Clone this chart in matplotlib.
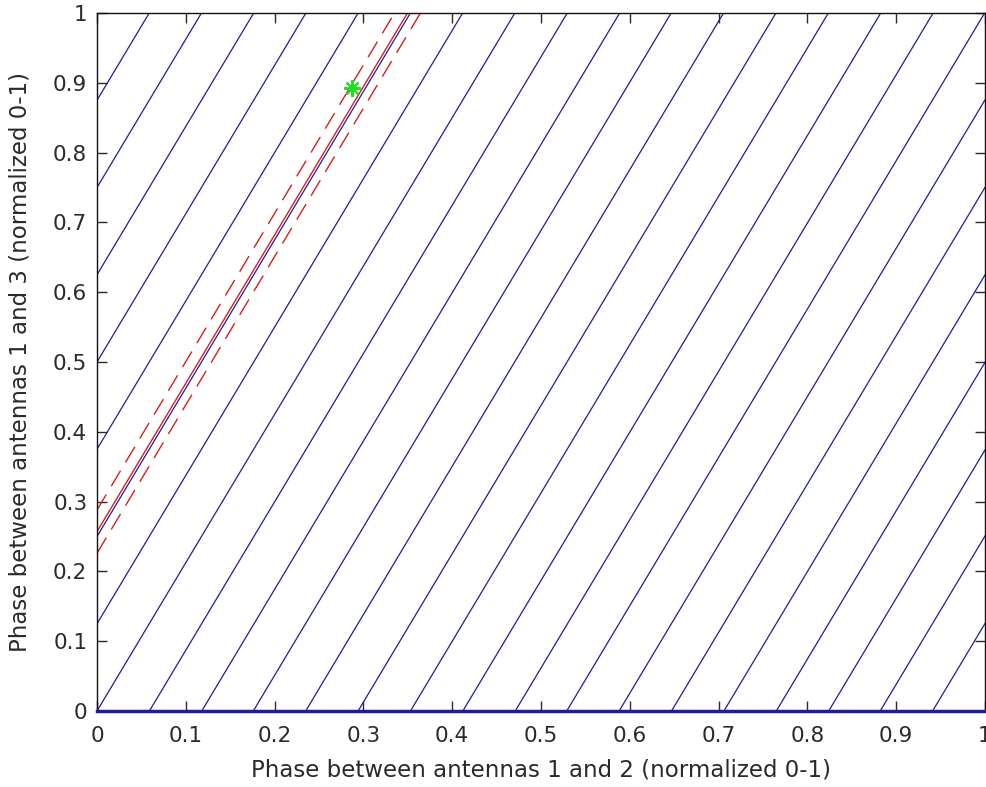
import matplotlib
matplotlib.use("Agg")
import matplotlib.pyplot as plt
import numpy as np

# Family of blue lines (all with the same slope)
slope = 2.125
bottom_x = [0.0, 0.059, 0.118, 0.176, 0.235, 0.294, 0.353, 0.412, 0.471,
            0.529, 0.588, 0.647, 0.706, 0.765, 0.824, 0.882, 0.941, 1.0]
left_y = [0.125, 0.25, 0.375, 0.5, 0.625, 0.75, 0.875, 1.0]

# Red band
red_center_y0 = 0.257
red_band = 0.031

# Green star
star_x = [0.287]
star_y = [0.892]

xticks = [0, 0.1, 0.2, 0.3, 0.4, 0.5, 0.6, 0.7, 0.8, 0.9, 1]
tick_labels = ["0", "0.1", "0.2", "0.3", "0.4", "0.5", "0.6", "0.7", "0.8", "0.9", "1"]

plt.rcParams['font.family'] = ['DejaVu Sans']

fig = plt.figure(figsize=(9.87, 7.87), dpi=100)
ax = fig.add_axes([97/987, 1-711/787, (985-97)/987, (711-13)/787])

blue = '#1e1e96'
xs = np.array([0.0, 1.0])
for x0 in bottom_x:
    ax.plot(xs, slope*(xs - x0), color=blue, lw=0.9)
for y0 in left_y:
    ax.plot(xs, slope*xs + y0, color=blue, lw=0.9)
ax.plot([0, 1], [0, 0], color=blue, lw=2.5, clip_on=False, zorder=3)

red = '#d42020'
ax.plot(xs, slope*xs + red_center_y0, color=red, lw=1.0)
for off in (-red_band, red_band):
    ax.plot(xs, slope*xs + red_center_y0 + off, color=red, lw=1.0, dashes=(13, 7))

ax.plot(star_x, star_y, linestyle='none', marker=(8, 2, 0), color='#22dd22',
        markersize=12, markeredgewidth=1.5, zorder=5)

ax.set_xlim(0, 1)
ax.set_ylim(0, 1)
ax.set_xticks(xticks)
ax.set_yticks(xticks)
ax.set_xticklabels(tick_labels)
ax.set_yticklabels(tick_labels)
ax.tick_params(direction='in', length=7, width=1, top=True, right=True,
               labelsize=15.5, colors='#2a2a2a')
ax.tick_params(axis='x', pad=11)
ax.tick_params(axis='y', pad=7)
for s in ax.spines.values():
    s.set_linewidth(1.0)
    s.set_color('#111111')

ax.set_xlabel("Phase between antennas 1 and 2 (normalized 0-1)", fontsize=16.5,
              color='#2a2a2a')
ax.set_ylabel("Phase between antennas 1 and 3 (normalized 0-1)", fontsize=16.5,
              color='#2a2a2a')
ax.xaxis.label.set_va('center')
ax.yaxis.label.set_va('center')
ax.xaxis.set_label_coords(0.5, (711-770)/698)
ax.yaxis.set_label_coords((20-97)/888, 0.5)

fig.savefig("out.png", dpi=100)
